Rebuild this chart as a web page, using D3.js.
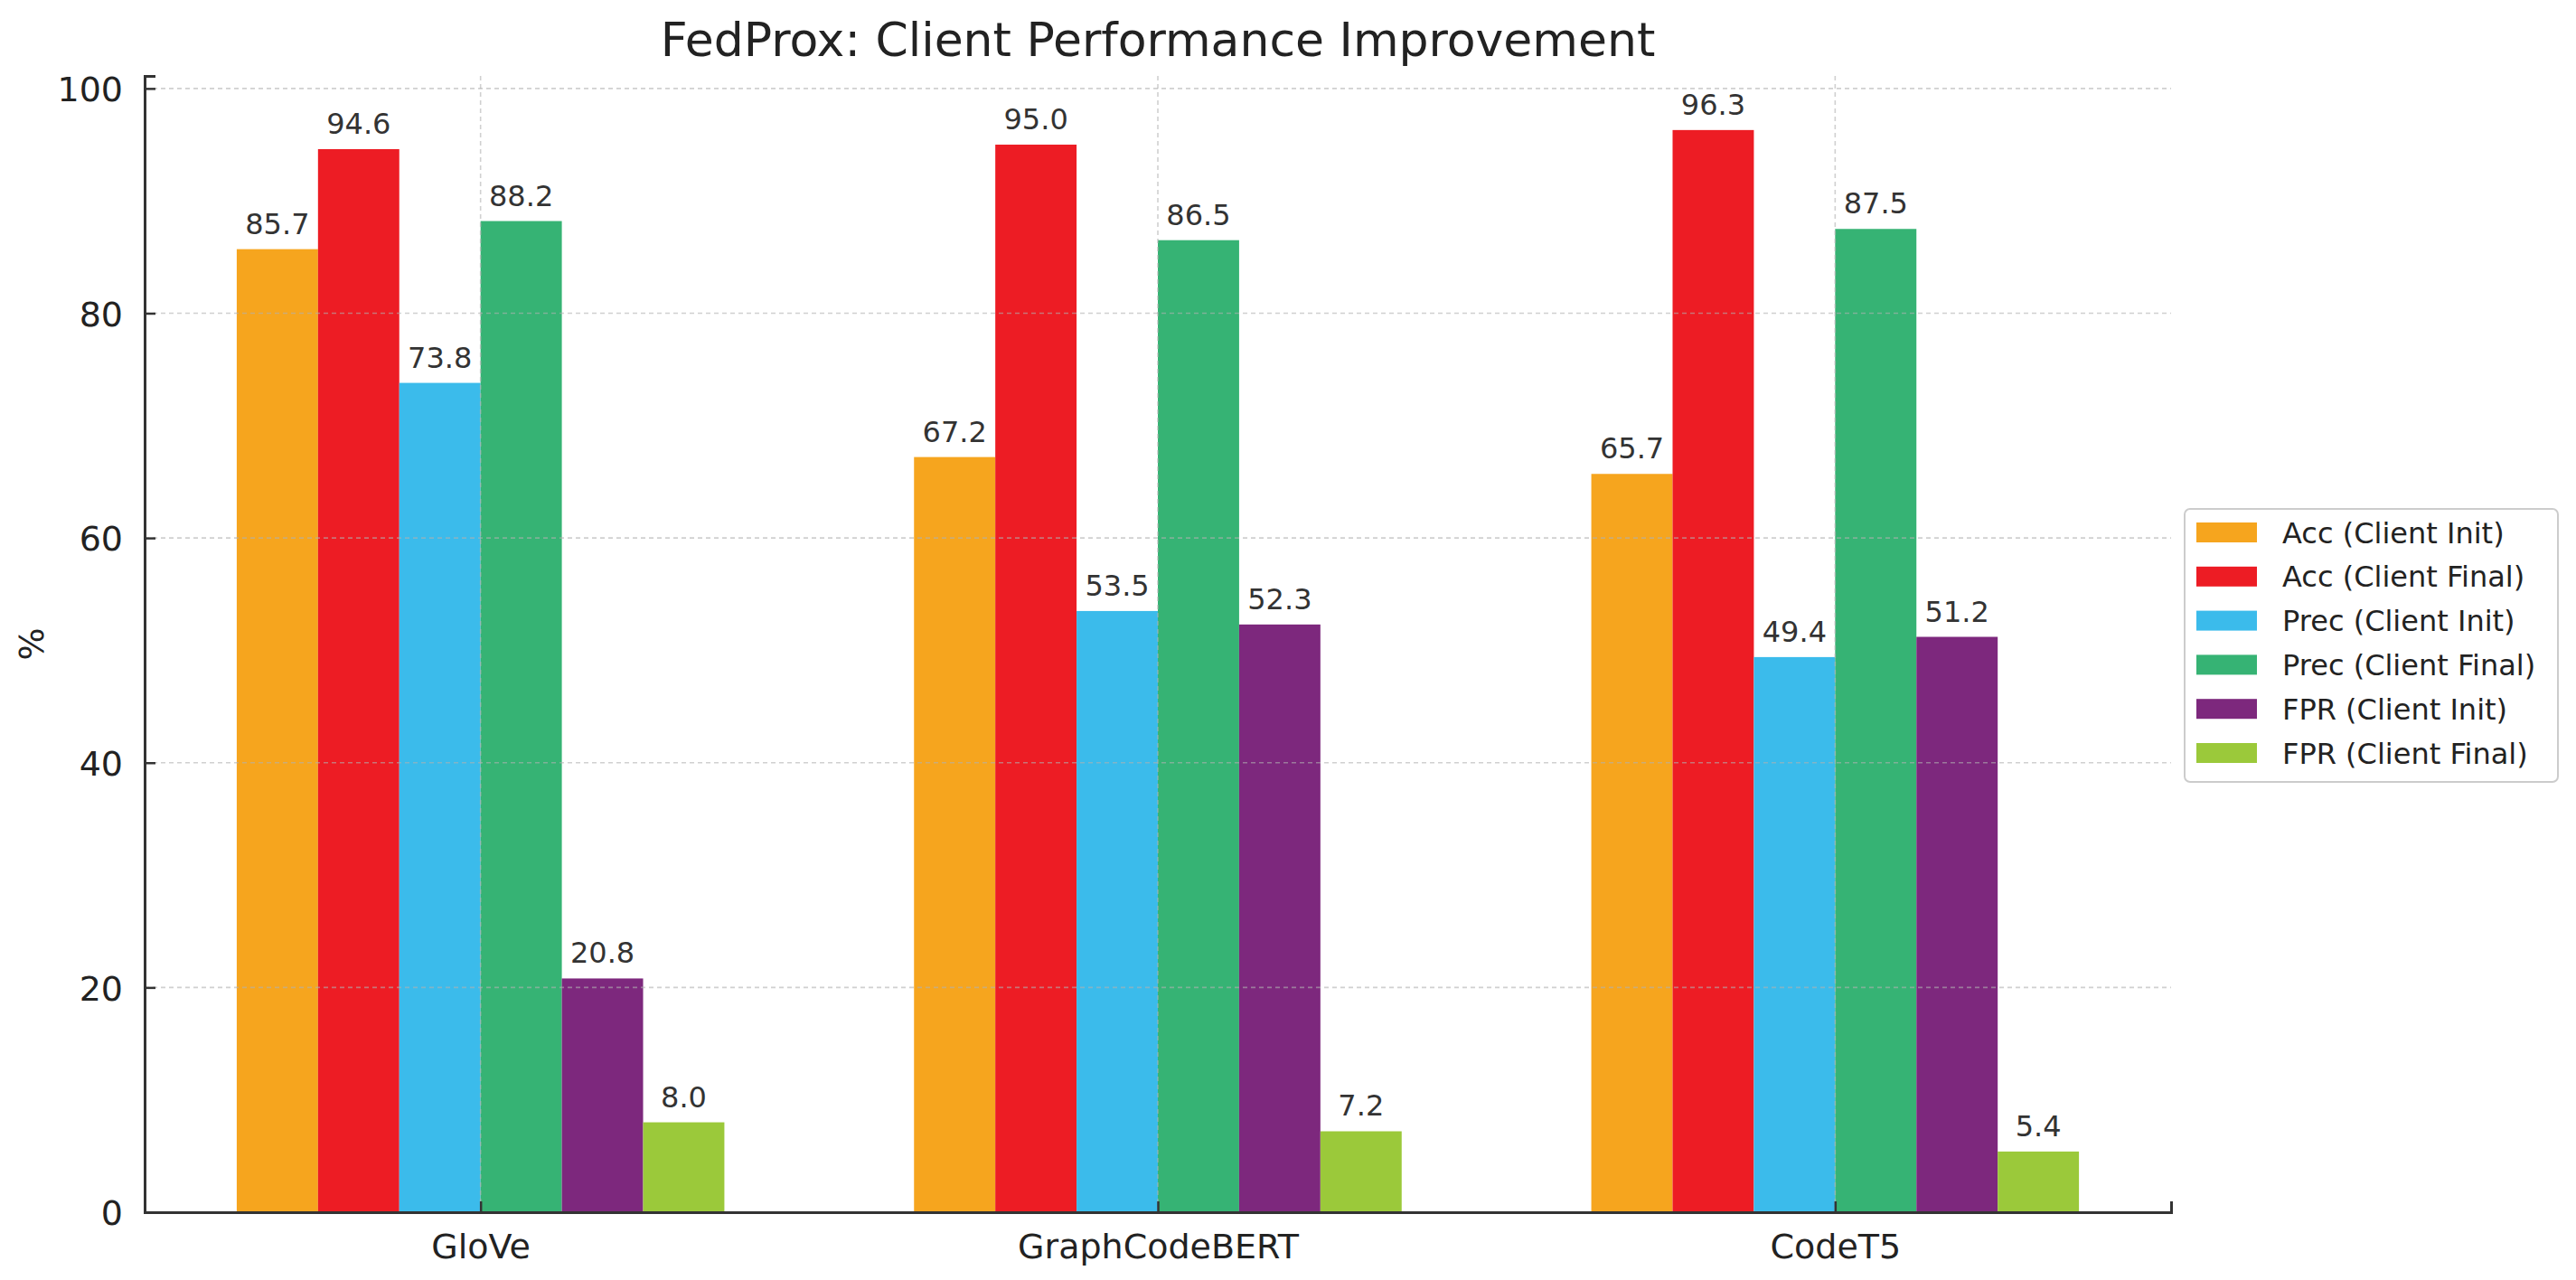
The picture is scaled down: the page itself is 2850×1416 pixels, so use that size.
<!DOCTYPE html>
<html>
<head>
<meta charset="utf-8">
<script src="https://cdn.jsdelivr.net/npm/d3@7"></script>
<style>
  body { margin: 0; background: #fff; }
  text { font-family: "DejaVu Sans", sans-serif; }
</style>
</head>
<body>
<div id="chart"></div>
<script>
// data
var categories = ["GloVe", "GraphCodeBERT", "CodeT5"];
var seriesNames = ["Acc (Client Init)", "Acc (Client Final)", "Prec (Client Init)",
                   "Prec (Client Final)", "FPR (Client Init)", "FPR (Client Final)"];
var accInit   = [85.7, 67.2, 65.7];
var accFinal  = [94.6, 95.0, 96.3];
var precInit  = [73.8, 53.5, 49.4];
var precFinal = [88.2, 86.5, 87.5];
var fprInit   = [20.8, 52.3, 51.2];
var fprFinal  = [8.0, 7.2, 5.4];
var yTicks = [0, 20, 40, 60, 80, 100];

var seriesValues = [accInit, accFinal, precInit, precFinal, fprInit, fprFinal];
var colors = ["#F6A51E", "#ED1C24", "#3BBBEB", "#36B374", "#7D287D", "#9BC93A"];

var cfg = {
  W: 2850, H: 1416,
  left: 160, right: 2402, top: 84, bottom: 1341,
  barW: 0.12,
  textColor: "#333333"
};

var svg = d3.select("#chart").append("svg")
  .attr("width", cfg.W).attr("height", cfg.H);

var nSeries = seriesNames.length;
var half = nSeries * cfg.barW / 2;
var xmin = -half, xmax = (categories.length - 1) + half;
var pad = (xmax - xmin) * 0.05;
var x = d3.scaleLinear().domain([xmin - pad, xmax + pad]).range([cfg.left, cfg.right]);
var ymax = d3.max(seriesValues, function(s){ return d3.max(s); }) * 1.05;
var y = d3.scaleLinear().domain([0, ymax]).range([cfg.bottom, cfg.top]);

// bars
var bars = [];
seriesValues.forEach(function(vals, si){
  vals.forEach(function(v, ci){
    bars.push({s: si, c: ci, v: v, x0: ci + (si - nSeries/2) * cfg.barW});
  });
});

svg.append("g").selectAll("rect").data(bars).enter().append("rect")
  .attr("x", function(d){ return x(d.x0); })
  .attr("y", function(d){ return y(d.v); })
  .attr("width", function(d){ return x(d.x0 + cfg.barW) - x(d.x0); })
  .attr("height", function(d){ return y(0) - y(d.v); })
  .attr("fill", function(d){ return colors[d.s]; });

// grid (drawn over the bars, faint)
var grid = svg.append("g").attr("stroke", "#b0b0b0").attr("stroke-opacity", 0.6)
  .attr("stroke-width", 1.6).attr("stroke-dasharray", "5,4");
grid.selectAll(".hg").data(yTicks.filter(function(t){ return t > 0; })).enter().append("line")
  .attr("x1", cfg.left).attr("x2", cfg.right)
  .attr("y1", function(d){ return y(d); }).attr("y2", function(d){ return y(d); });
grid.selectAll(".vg").data(categories).enter().append("line")
  .attr("x1", function(d, i){ return x(i); }).attr("x2", function(d, i){ return x(i); })
  .attr("y1", cfg.top).attr("y2", cfg.bottom);

// value labels
svg.append("g").selectAll("text").data(bars).enter().append("text")
  .attr("x", function(d){ return x(d.x0 + cfg.barW/2); })
  .attr("y", function(d){ return y(d.v) - 17; })
  .attr("text-anchor", "middle")
  .style("font-size", "32px")
  .style("fill", cfg.textColor)
  .text(function(d){ return d.v.toFixed(1); });

// axes
var yAxis = d3.axisLeft(y).tickValues(yTicks).tickSize(-12).tickPadding(24).tickFormat(d3.format("d"));
var gy = svg.append("g").attr("transform", "translate(" + cfg.left + ",0)").call(yAxis);
var xAxis = d3.axisBottom(x).tickValues(d3.range(categories.length)).tickSize(-12).tickPadding(24)
  .tickFormat(function(d){ return categories[d]; });
var gx = svg.append("g").attr("transform", "translate(0," + cfg.bottom + ")").call(xAxis);

[gy, gx].forEach(function(g){
  g.select(".domain").attr("stroke", "#333").attr("stroke-width", 3);
  g.selectAll(".tick line").attr("stroke", "#333").attr("stroke-width", 2.5);
  g.selectAll(".tick text").style("font-size", "38px").style("font-family", "DejaVu Sans")
    .attr("fill", "#222");
});
gy.selectAll(".tick text").attr("dy", "0.36em");
gx.selectAll(".tick text").attr("dy", "0.72em");

// y label
svg.append("text")
  .attr("transform", "translate(48," + ((cfg.top + cfg.bottom)/2) + ") rotate(-90)")
  .attr("text-anchor", "middle")
  .style("font-size", "38px").style("fill", "#222")
  .text("%");

// title
svg.append("text")
  .attr("x", (cfg.left + cfg.right)/2).attr("y", 62)
  .attr("text-anchor", "middle")
  .style("font-size", "52px").style("fill", "#222")
  .text("FedProx: Client Performance Improvement");

// legend
var lg = svg.append("g").attr("transform", "translate(2417,563)");
lg.append("rect").attr("width", 413).attr("height", 302).attr("rx", 6)
  .attr("fill", "#fff").attr("stroke", "#cccccc").attr("stroke-width", 2);
var items = lg.selectAll(".item").data(seriesNames).enter().append("g")
  .attr("transform", function(d, i){ return "translate(0," + (26 + i*48.8) + ")"; });
items.append("rect").attr("x", 13).attr("y", -11).attr("width", 67).attr("height", 22)
  .attr("fill", function(d, i){ return colors[i]; });
items.append("text").attr("x", 108).attr("dy", "0.36em")
  .style("font-size", "32px").style("fill", "#222")
  .text(function(d){ return d; });
</script>
</body>
</html>
